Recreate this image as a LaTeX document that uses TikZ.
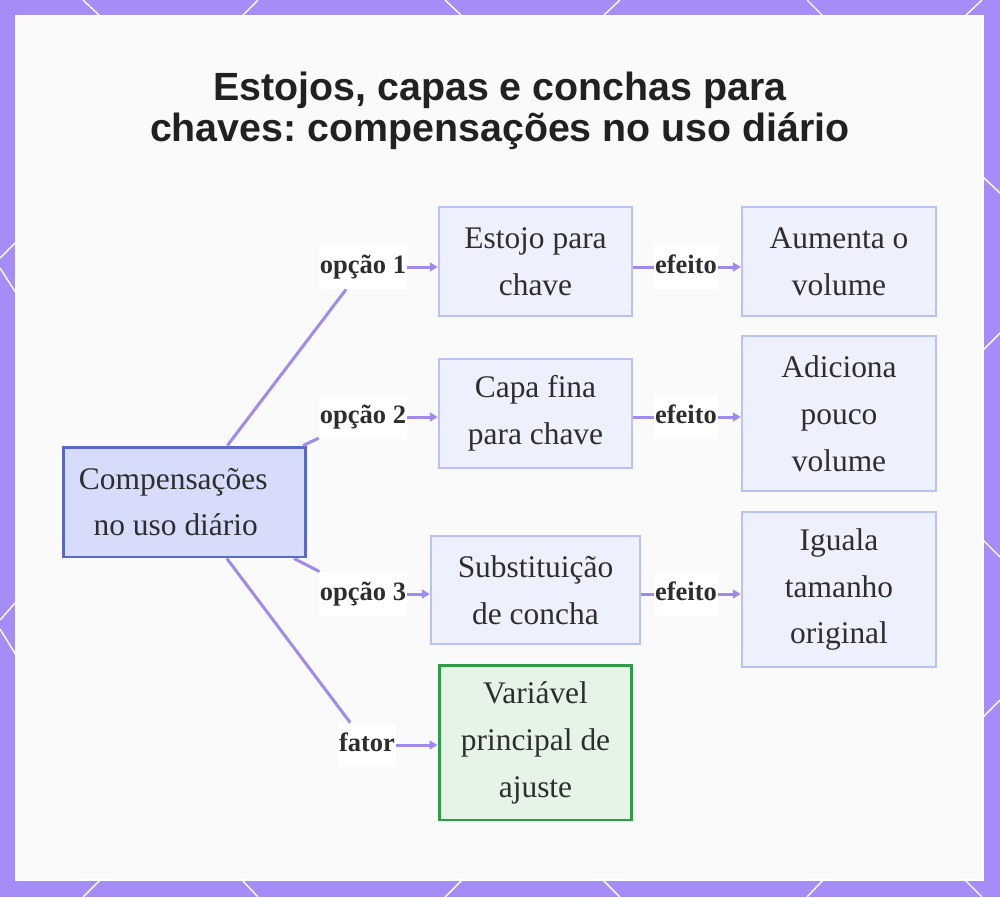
\documentclass[tikz,border=0pt]{standalone}
\usepackage{fontspec}
\setmainfont{Liberation Serif}
\newfontfamily\headfont{Liberation Sans}
\usepackage{tikz}
\usetikzlibrary{arrows.meta,positioning}
\definecolor{framec}{HTML}{A68CF6}
\definecolor{edgec}{HTML}{A08AF0}
\definecolor{boxline}{HTML}{BAC2F5}
\definecolor{boxfill}{HTML}{EEF0FD}
\definecolor{rootline}{HTML}{5A68C9}
\definecolor{rootfill}{HTML}{D7DCFB}
\definecolor{keyline}{HTML}{2E9E46}
\definecolor{keyfill}{HTML}{E6F4E8}
\definecolor{txt}{HTML}{2E2E2E}
\frenchspacing

\begin{document}
\begin{tikzpicture}[x=0.02cm, y=-0.02cm,
  box/.style={draw=boxline,fill=boxfill,line width=1.4pt,align=center,inner sep=0pt,text=txt,font=\fontsize{17.9pt}{26.7pt}\selectfont},
  lbl/.style={fill=white,inner xsep=0.5pt,inner ysep=5pt,text height=11.3pt,text depth=3.8pt,text=txt,font=\fontsize{15.1pt}{18pt}\selectfont\bfseries},
  edge/.style={draw=edgec,line width=1.7pt},
  arr/.style={edge,-{Triangle[length=4.5pt,width=5pt]}},
  deco/.style={white,line width=0.8pt}]
  \useasboundingbox (0,0) rectangle (1000,897);
  % frame and background
  \fill[framec] (0,0) rectangle (1000,897);
  \draw[white,line width=1.2pt,fill=black!2] (16,16) rectangle (983,880);
  \draw[deco] (83,0) -- (100,16);  \draw[deco] (258,0) -- (242,16);
  \draw[deco] (445,0) -- (462,16); \draw[deco] (620,0) -- (603,16);
  \draw[deco] (807,0) -- (823,16); \draw[deco] (982,0) -- (965,16);
  \draw[deco] (100,880) -- (83,897);  \draw[deco] (242,880) -- (258,897);
  \draw[deco] (462,880) -- (445,897); \draw[deco] (603,880) -- (620,897);
  \draw[deco] (823,880) -- (807,897); \draw[deco] (965,880) -- (982,897);
  \draw[deco] (16,242) -- (0,258) (0,268) -- (16,293);
  \draw[deco] (16,602) -- (0,620) (0,629) -- (16,655);
  \draw[deco] (983,177) -- (1000,193) (1000,333) -- (983,350);
  \draw[deco] (983,540) -- (1000,557) (1000,700) -- (983,717);

  % title
  \node[align=center,text=black!87,font=\headfont\bfseries\fontsize{22.4pt}{23.3pt}\selectfont] (title) at (500,111)
    {Estojos, capas e conchas para\\chaves: compensações no uso diário};

  % nodes
  \node[box,draw=rootline,fill=rootfill,line width=1.7pt,minimum width=4.86cm,minimum height=2.2cm] (r) at (184.5,502)
    {Compensações\hspace*{0.45cm}\\no uso diário\hspace*{0.35cm}};
  \node[box,minimum width=3.86cm,minimum height=2.18cm] (b1) at (535.5,261.5) {Estojo para\\chave};
  \node[box,minimum width=3.88cm,minimum height=2.18cm] (e1) at (839,261.5) {Aumenta o\\volume};
  \node[box,minimum width=3.86cm,minimum height=2.18cm] (b2) at (535.5,413.5) {Capa fina\\para chave};
  \node[box,minimum width=3.88cm,minimum height=3.1cm] (e2) at (839,413.5) {Adiciona\\pouco\\volume};
  \node[box,minimum width=4.18cm,minimum height=2.16cm] (b3) at (535.5,590) {Substituição\\de concha};
  \node[box,minimum width=3.88cm,minimum height=3.1cm] (e3) at (839,589.5) {Iguala\\tamanho\\original};
  \node[box,draw=keyline,fill=keyfill,line width=1.7pt,minimum width=3.86cm,minimum height=3.1cm] (v) at (535.5,742.5) {Variável\\principal de\\ajuste};

  % edge labels
  \node[lbl] (o1) at (363,267) {opção 1};
  \node[lbl] (o2) at (363,417) {opção 2};
  \node[lbl] (o3) at (363,594) {opção 3};
  \node[lbl] (f) at (367,745) {fator};
  \node[lbl] (x1) at (686,267) {efeito};
  \node[lbl] (x2) at (686,417) {efeito};
  \node[lbl] (x3) at (686,594) {efeito};

  % connectors
  \draw[edge] (r) -- (o1);
  \draw[edge] (r) -- (o2);
  \draw[edge] (r) -- (o3);
  \draw[edge] (r) -- (f);
  \draw[arr] (o1.east) -- (o1.east -| b1.west);
  \draw[arr] (o2.east) -- (o2.east -| b2.west);
  \draw[arr] (o3.east) -- (o3.east -| b3.west);
  \draw[arr] (f.east) -- (f.east -| v.west);
  \draw[edge] (x1.west -| b1.east) -- (x1.west);
  \draw[edge] (x2.west -| b2.east) -- (x2.west);
  \draw[edge] (x3.west -| b3.east) -- (x3.west);
  \draw[arr] (x1.east) -- (x1.east -| e1.west);
  \draw[arr] (x2.east) -- (x2.east -| e2.west);
  \draw[arr] (x3.east) -- (x3.east -| e3.west);
\end{tikzpicture}
\end{document}
